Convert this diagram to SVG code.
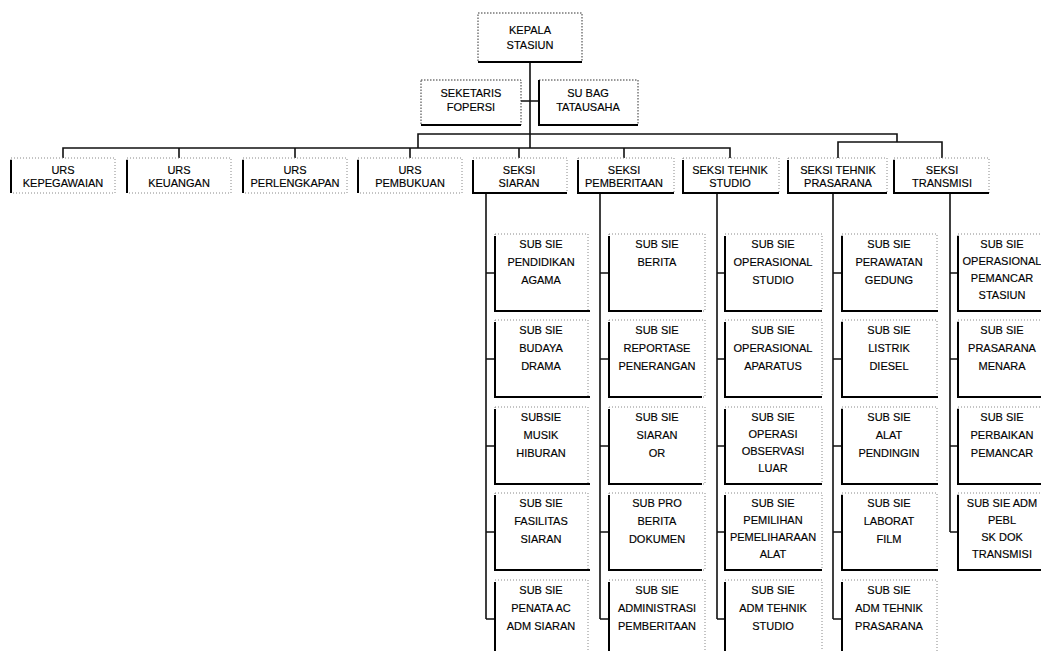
<svg xmlns="http://www.w3.org/2000/svg" width="1041" height="651" viewBox="0 0 1041 651">
<style>
.box{fill:none;stroke:#888;stroke-width:1;stroke-dasharray:1 2}
.boxd{fill:none;stroke:#333;stroke-width:1;stroke-dasharray:1.5 1.5}
.edge{fill:none;stroke:#000;stroke-width:2}
.conn{fill:none;stroke:#111;stroke-width:1.6}
text{font-family:"Liberation Sans",Arial,sans-serif;font-size:11px;fill:#000;stroke:#000;stroke-width:0.15;text-anchor:middle}
</style>
<rect width="1041" height="651" fill="#fff"/>
<g id="connectors">
<path class="conn" d="M530 62 V148 M521 101 H539"/>
<path class="conn" d="M63 158 V148 H730 V158 M179 148 V158 M295 148 V158 M410 148 V158 M519 148 V158 M624 148 V158"/>
<path class="conn" d="M418 148 V134 H897 V142 M838 158 V142 H942 V158"/>
<path class="conn" d="M486 193 V619 M486 273 H495 M486 359 H495 M486 446 H495 M486 532 H495 M486 619 H495"/>
<path class="conn" d="M600 193 V619 M600 273 H609 M600 359 H609 M600 446 H609 M600 532 H609 M600 619 H609"/>
<path class="conn" d="M717 193 V619 M717 273 H725 M717 359 H725 M717 446 H725 M717 532 H725 M717 619 H725"/>
<path class="conn" d="M833 193 V619 M833 273 H842 M833 359 H842 M833 446 H842 M833 532 H842 M833 619 H842"/>
<path class="conn" d="M950 193 V532 M950 273 H958 M950 359 H958 M950 446 H958 M950 532 H958"/>
</g>
<g id="kepala"><rect class="boxd" x="478" y="13" width="104" height="49"/><path class="edge" d="M478 62 H582"/><text x="530" y="34">KEPALA<tspan x="530" dy="15">STASIUN</tspan></text></g>
<g id="seketaris"><rect class="boxd" x="421" y="80" width="100" height="45"/><path class="edge" d="M421 125 H521"/><text x="471" y="97">SEKETARIS<tspan x="471" dy="14">FOPERSI</tspan></text></g>
<g id="subbag"><rect class="boxd" x="539" y="80" width="99" height="45"/><path class="edge" d="M539 80 V125 H638"/><text x="588" y="97">SU BAG<tspan x="588" dy="14">TATAUSAHA</tspan></text></g>

<g id="urs-kepegawaian"><rect class="box" x="11" y="158" width="104" height="35"/><path class="edge" d="M11 160 V193"/><text x="63" y="174">URS<tspan x="63" dy="13">KEPEGAWAIAN</tspan></text></g>
<g id="urs-keuangan"><rect class="box" x="127" y="158" width="104" height="35"/><path class="edge" d="M127 160 V193"/><text x="179" y="174">URS<tspan x="179" dy="13">KEUANGAN</tspan></text></g>
<g id="urs-perlengkapan"><rect class="box" x="243" y="158" width="104" height="35"/><path class="edge" d="M243 160 V193"/><text x="295" y="174">URS<tspan x="295" dy="13">PERLENGKAPAN</tspan></text></g>
<g id="urs-pembukuan"><rect class="box" x="358" y="158" width="104" height="35"/><path class="edge" d="M358 160 V193"/><text x="410" y="174">URS<tspan x="410" dy="13">PEMBUKUAN</tspan></text></g>
<g id="seksi-siaran"><rect class="box" x="473" y="158" width="94" height="35"/><path class="edge" d="M473 160 V193 H567"/><text x="519" y="174">SEKSI<tspan x="519" dy="13">SIARAN</tspan></text></g>
<g id="seksi-pemberitaan"><rect class="box" x="578" y="158" width="96" height="35"/><path class="edge" d="M578 160 V193 H674"/><text x="624" y="174">SEKSI<tspan x="624" dy="13">PEMBERITAAN</tspan></text></g>
<g id="seksi-tehnik-studio"><rect class="box" x="683" y="158" width="96" height="35"/><path class="edge" d="M683 160 V193 H779"/><text x="730" y="174">SEKSI TEHNIK<tspan x="730" dy="13">STUDIO</tspan></text></g>
<g id="seksi-tehnik-prasarana"><rect class="box" x="788" y="158" width="99" height="35"/><path class="edge" d="M788 160 V193 H887"/><text x="838" y="174">SEKSI TEHNIK<tspan x="838" dy="13">PRASARANA</tspan></text></g>
<g id="seksi-transmisi"><rect class="box" x="894" y="158" width="95" height="35"/><path class="edge" d="M894 160 V193 H989"/><text x="942" y="174">SEKSI<tspan x="942" dy="13">TRANSMISI</tspan></text></g>

<g id="c1-1"><rect class="box" x="495" y="234" width="93" height="77"/><path class="edge" d="M495 236 V311 H590"/><text x="541" y="248">SUB SIE<tspan x="541" dy="18">PENDIDIKAN</tspan><tspan x="541" dy="18">AGAMA</tspan></text></g>
<g id="c1-2"><rect class="box" x="495" y="320" width="93" height="77"/><path class="edge" d="M495 322 V397 H590"/><text x="541" y="334">SUB SIE<tspan x="541" dy="18">BUDAYA</tspan><tspan x="541" dy="18">DRAMA</tspan></text></g>
<g id="c1-3"><rect class="box" x="495" y="407" width="93" height="77"/><path class="edge" d="M495 409 V484 H590"/><text x="541" y="421">SUBSIE<tspan x="541" dy="18">MUSIK</tspan><tspan x="541" dy="18">HIBURAN</tspan></text></g>
<g id="c1-4"><rect class="box" x="495" y="493" width="93" height="77"/><path class="edge" d="M495 495 V570 H590"/><text x="541" y="507">SUB SIE<tspan x="541" dy="18">FASILITAS</tspan><tspan x="541" dy="18">SIARAN</tspan></text></g>
<g id="c1-5"><path class="box" d="M495 580 H588 V651"/><path class="edge" d="M495 582 V651"/><text x="541" y="594">SUB SIE<tspan x="541" dy="18">PENATA AC</tspan><tspan x="541" dy="18">ADM SIARAN</tspan></text></g>

<g id="c2-1"><rect class="box" x="609" y="234" width="96" height="77"/><path class="edge" d="M609 236 V311 H702"/><text x="657" y="248">SUB SIE<tspan x="657" dy="18">BERITA</tspan></text></g>
<g id="c2-2"><rect class="box" x="609" y="320" width="96" height="77"/><path class="edge" d="M609 322 V397 H702"/><text x="657" y="334">SUB SIE<tspan x="657" dy="18">REPORTASE</tspan><tspan x="657" dy="18">PENERANGAN</tspan></text></g>
<g id="c2-3"><rect class="box" x="609" y="407" width="96" height="77"/><path class="edge" d="M609 409 V484 H702"/><text x="657" y="421">SUB SIE<tspan x="657" dy="18">SIARAN</tspan><tspan x="657" dy="18">OR</tspan></text></g>
<g id="c2-4"><rect class="box" x="609" y="493" width="96" height="77"/><path class="edge" d="M609 495 V570 H702"/><text x="657" y="507">SUB PRO<tspan x="657" dy="18">BERITA</tspan><tspan x="657" dy="18">DOKUMEN</tspan></text></g>
<g id="c2-5"><path class="box" d="M609 580 H705 V651"/><path class="edge" d="M609 582 V651"/><text x="657" y="594">SUB SIE<tspan x="657" dy="18">ADMINISTRASI</tspan><tspan x="657" dy="18">PEMBERITAAN</tspan></text></g>

<g id="c3-1"><rect class="box" x="725" y="234" width="97" height="77"/><path class="edge" d="M725 236 V311 H822"/><text x="773" y="248">SUB SIE<tspan x="773" dy="18">OPERASIONAL</tspan><tspan x="773" dy="18">STUDIO</tspan></text></g>
<g id="c3-2"><rect class="box" x="725" y="320" width="97" height="77"/><path class="edge" d="M725 322 V397 H822"/><text x="773" y="334">SUB SIE<tspan x="773" dy="18">OPERASIONAL</tspan><tspan x="773" dy="18">APARATUS</tspan></text></g>
<g id="c3-3"><rect class="box" x="725" y="407" width="97" height="77"/><path class="edge" d="M725 409 V484 H822"/><text x="773" y="421">SUB SIE<tspan x="773" dy="17">OPERASI</tspan><tspan x="773" dy="17">OBSERVASI</tspan><tspan x="773" dy="17">LUAR</tspan></text></g>
<g id="c3-4"><rect class="box" x="725" y="493" width="97" height="77"/><path class="edge" d="M725 495 V570 H822"/><text x="773" y="507">SUB SIE<tspan x="773" dy="17">PEMILIHAN</tspan><tspan x="773" dy="17">PEMELIHARAAN</tspan><tspan x="773" dy="17">ALAT</tspan></text></g>
<g id="c3-5"><path class="box" d="M725 580 H822 V651"/><path class="edge" d="M725 582 V651"/><text x="773" y="594">SUB SIE<tspan x="773" dy="18">ADM TEHNIK</tspan><tspan x="773" dy="18">STUDIO</tspan></text></g>

<g id="c4-1"><rect class="box" x="842" y="234" width="95" height="77"/><path class="edge" d="M842 236 V311 H938"/><text x="889" y="248">SUB SIE<tspan x="889" dy="18">PERAWATAN</tspan><tspan x="889" dy="18">GEDUNG</tspan></text></g>
<g id="c4-2"><rect class="box" x="842" y="320" width="95" height="77"/><path class="edge" d="M842 322 V397 H938"/><text x="889" y="334">SUB SIE<tspan x="889" dy="18">LISTRIK</tspan><tspan x="889" dy="18">DIESEL</tspan></text></g>
<g id="c4-3"><rect class="box" x="842" y="407" width="95" height="77"/><path class="edge" d="M842 409 V484 H938"/><text x="889" y="421">SUB SIE<tspan x="889" dy="18">ALAT</tspan><tspan x="889" dy="18">PENDINGIN</tspan></text></g>
<g id="c4-4"><rect class="box" x="842" y="493" width="95" height="77"/><path class="edge" d="M842 495 V570 H938"/><text x="889" y="507">SUB SIE<tspan x="889" dy="18">LABORAT</tspan><tspan x="889" dy="18">FILM</tspan></text></g>
<g id="c4-5"><path class="box" d="M842 580 H937 V651"/><path class="edge" d="M842 582 V651"/><text x="889" y="594">SUB SIE<tspan x="889" dy="18">ADM TEHNIK</tspan><tspan x="889" dy="18">PRASARANA</tspan></text></g>

<g id="c5-1"><rect class="box" x="958" y="234" width="92" height="77"/><path class="edge" d="M958 236 V311 H1050"/><text x="1002" y="248">SUB SIE<tspan x="1002" dy="17">OPERASIONAL</tspan><tspan x="1002" dy="17">PEMANCAR</tspan><tspan x="1002" dy="17">STASIUN</tspan></text></g>
<g id="c5-2"><rect class="box" x="958" y="320" width="92" height="77"/><path class="edge" d="M958 322 V397 H1050"/><text x="1002" y="334">SUB SIE<tspan x="1002" dy="18">PRASARANA</tspan><tspan x="1002" dy="18">MENARA</tspan></text></g>
<g id="c5-3"><rect class="box" x="958" y="407" width="92" height="77"/><path class="edge" d="M958 409 V484 H1050"/><text x="1002" y="421">SUB SIE<tspan x="1002" dy="18">PERBAIKAN</tspan><tspan x="1002" dy="18">PEMANCAR</tspan></text></g>
<g id="c5-4"><rect class="box" x="958" y="493" width="92" height="77"/><path class="edge" d="M958 495 V570 H1050"/><text x="1002" y="507">SUB SIE ADM<tspan x="1002" dy="17">PEBL</tspan><tspan x="1002" dy="17">SK DOK</tspan><tspan x="1002" dy="17">TRANSMISI</tspan></text></g>
</svg>
